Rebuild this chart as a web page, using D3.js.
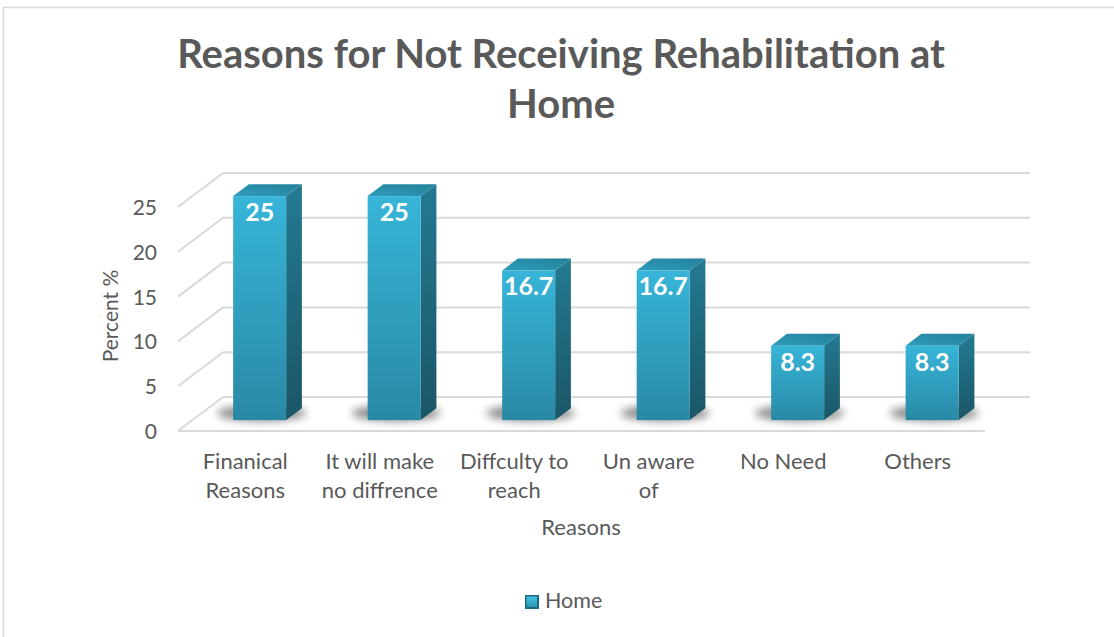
<!DOCTYPE html>
<html>
<head>
<meta charset="utf-8">
<script src="https://cdn.jsdelivr.net/npm/d3@7"></script>
<style>
  html, body { margin: 0; padding: 0; background: #fff; }
  svg { display: block; }
  text { font-family: Lato, "Open Sans", sans-serif; fill: #595959; }
</style>
</head>
<body>
<svg id="chart" width="1114" height="637"></svg>
<script>
// Chart data
const categories = [
  ["Finanical", "Reasons"],
  ["It will make", "no diffrence"],
  ["Diffculty to", "reach"],
  ["Un aware", "of"],
  ["No Need"],
  ["Others"]
];
const values = [25, 25, 16.7, 16.7, 8.3, 8.3];
const yTicks = [0, 5, 10, 15, 20, 25];
const seriesName = "Home";
const titleLines = ["Reasons for Not Receiving Rehabilitation at", "Home"];

const svg = d3.select("#chart");
const W = 1114, H = 637;

// Oblique projection: the floor/walls are pushed back by a depth vector
const depth = { dx: 45, dy: -34 };
const barFront = 0.32, barBack = 0.67;   // bar depth position as fraction of the depth

const x = d3.scaleBand()
  .domain(d3.range(categories.length))
  .range([178, 985])
  .padding(0);
const y = d3.scaleLinear().domain([0, 25]).range([431, 207]);
const barW = x.step() * 0.394;

const defs = svg.append("defs");

const gFront = defs.append("linearGradient").attr("id", "gFront")
  .attr("x1", 0).attr("y1", 0).attr("x2", 0).attr("y2", 1);
gFront.append("stop").attr("offset", 0).attr("stop-color", "#37b5d8");
gFront.append("stop").attr("offset", 1).attr("stop-color", "#2989a5");

const gSide = defs.append("linearGradient").attr("id", "gSide")
  .attr("x1", 0).attr("y1", 0).attr("x2", 0).attr("y2", 1);
gSide.append("stop").attr("offset", 0).attr("stop-color", "#237a92");
gSide.append("stop").attr("offset", 1).attr("stop-color", "#1a5666");

const gTop = defs.append("linearGradient").attr("id", "gTop")
  .attr("x1", 0).attr("y1", 1).attr("x2", 1).attr("y2", 0);
gTop.append("stop").attr("offset", 0).attr("stop-color", "#2e9dba");
gTop.append("stop").attr("offset", 1).attr("stop-color", "#24809a");

const gLegend = defs.append("linearGradient").attr("id", "gLegend")
  .attr("x1", 0).attr("y1", 0).attr("x2", 0).attr("y2", 1);
gLegend.append("stop").attr("offset", 0).attr("stop-color", "#3fc3e3");
gLegend.append("stop").attr("offset", 1).attr("stop-color", "#2a94b2");

const blur = defs.append("filter").attr("id", "shadowBlur")
  .attr("x", "-50%").attr("y", "-100%").attr("width", "200%").attr("height", "300%");
blur.append("feGaussianBlur").attr("stdDeviation", 4);

// Outer chart border
svg.append("rect")
  .attr("x", 3.5).attr("y", 7.5)
  .attr("width", W + 20).attr("height", H + 20)
  .attr("fill", "none").attr("stroke", "#d9d9d9").attr("stroke-width", 1.5);

// Title
svg.append("g").selectAll("text").data(titleLines).join("text")
  .attr("x", 561)
  .attr("y", (d, i) => 68 + i * 50)
  .attr("text-anchor", "middle")
  .style("font-weight", "bold")
  .style("font-size", "40px")
  .text(d => d);

// Walls and floor gridlines
const grid = svg.append("g")
  .attr("stroke", "#d9d9d9").attr("stroke-width", 2).attr("fill", "none");
const x0 = x.range()[0], x1 = x.range()[1];
// back wall horizontal lines
grid.selectAll("line.back").data(yTicks).join("line")
  .attr("x1", x0 + depth.dx).attr("x2", 1030)
  .attr("y1", d => y(d) + depth.dy).attr("y2", d => y(d) + depth.dy);
// side wall diagonals
grid.selectAll("line.side").data(yTicks).join("line")
  .attr("x1", x0).attr("y1", d => y(d))
  .attr("x2", x0 + depth.dx).attr("y2", d => y(d) + depth.dy);
// floor front edge
grid.append("line")
  .attr("x1", x0).attr("x2", x1)
  .attr("y1", y(0)).attr("y2", y(0));

// Y tick labels
svg.append("g").selectAll("text").data(yTicks).join("text")
  .attr("x", 157)
  .attr("y", d => y(d) + 8)
  .attr("text-anchor", "end")
  .style("font-size", "21px")
  .text(d => d);

// Y axis title
svg.append("text")
  .attr("transform", "translate(118,316) rotate(-90)")
  .attr("text-anchor", "middle")
  .style("font-size", "21px")
  .text("Percent %");

// Bars
const fdx = (barBack - barFront) * depth.dx, fdy = (barBack - barFront) * depth.dy;
const bars = svg.append("g").selectAll("g").data(values).join("g")
  .attr("transform", (d, i) => {
    const cx = x(i) + x.bandwidth() / 2 + barFront * depth.dx;
    return `translate(${cx},${barFront * depth.dy})`;
  });

// soft floor shadow around each bar footprint
bars.append("ellipse")
  .attr("cx", fdx / 2 - 6)
  .attr("cy", y(0) + fdy / 2 - 1)
  .attr("rx", barW / 2 + 18)
  .attr("ry", 8)
  .attr("fill", "#000").attr("opacity", 0.45)
  .attr("filter", "url(#shadowBlur)");

// side face
bars.append("path")
  .attr("d", d => {
    const r = barW / 2, t = y(d), b = y(0);
    return `M${r},${t} L${r + fdx},${t + fdy} L${r + fdx},${b + fdy} L${r},${b} Z`;
  })
  .attr("fill", "url(#gSide)");

// top face
bars.append("path")
  .attr("d", d => {
    const l = -barW / 2, r = barW / 2, t = y(d);
    return `M${l},${t} L${r},${t} L${r + fdx},${t + fdy} L${l + fdx},${t + fdy} Z`;
  })
  .attr("fill", "url(#gTop)");

// front face
bars.append("rect")
  .attr("x", -barW / 2)
  .attr("y", d => y(d))
  .attr("width", barW)
  .attr("height", d => y(0) - y(d))
  .attr("fill", "url(#gFront)");

// value labels
bars.append("text")
  .attr("x", 0)
  .attr("y", d => y(d) + 25)
  .attr("text-anchor", "middle")
  .style("font-weight", "bold")
  .style("font-size", "25px")
  .style("fill", "#ffffff")
  .text(d => d);

// Category labels
const cat = svg.append("g").selectAll("text").data(categories).join("text")
  .attr("x", (d, i) => x(i) + x.bandwidth() / 2)
  .attr("y", 469)
  .attr("text-anchor", "middle")
  .style("font-size", "22px");
cat.selectAll("tspan").data(d => d).join("tspan")
  .attr("x", function () { return d3.select(this.parentNode).attr("x"); })
  .attr("dy", (d, i) => i === 0 ? 0 : 29)
  .text(d => d);

// X axis title
svg.append("text")
  .attr("x", 581).attr("y", 535)
  .attr("text-anchor", "middle")
  .style("font-size", "22px")
  .text("Reasons");

// Legend
const lg = svg.append("g").attr("transform", "translate(525,595)");
lg.append("rect").attr("width", 14).attr("height", 14).attr("fill", "#1d6a80");
lg.append("rect").attr("x", 1.5).attr("y", 1.5).attr("width", 10.5).attr("height", 10.5)
  .attr("fill", "url(#gLegend)");
lg.append("text").attr("x", 20).attr("y", 13)
  .style("font-size", "21.5px")
  .text(seriesName);
</script>
</body>
</html>
